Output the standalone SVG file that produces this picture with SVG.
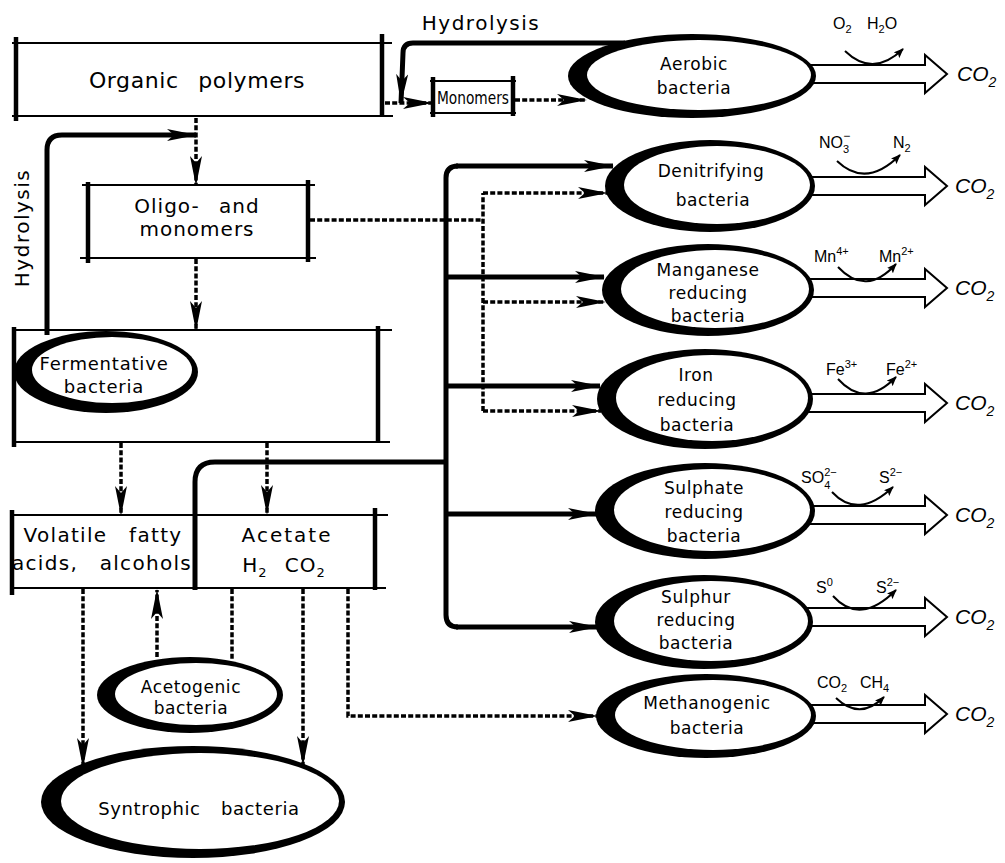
<svg xmlns="http://www.w3.org/2000/svg" width="1005" height="863" viewBox="0 0 1005 863">
<style>
.lb{font-family:"DejaVu Sans",sans-serif;font-size:17px;letter-spacing:0.6px;text-anchor:middle;fill:#000}
.bx{font-size:20px;letter-spacing:1px;word-spacing:12px}
.ch{font-family:"Liberation Sans",Arial,sans-serif;font-size:16px;fill:#000}
.co{font-family:"Liberation Sans",Arial,sans-serif;font-style:italic;font-size:21px;fill:#000}
.ln{stroke:#000;stroke-width:2;fill:none}
.bar{stroke:#000;stroke-width:4.5;fill:none}
.tk{stroke:#000;stroke-width:5;fill:none}
.dt{stroke:#000;stroke-width:3.5;fill:none;stroke-dasharray:5 2.2}
.out{fill:#000}
.in{fill:#fff}
.ha{fill:#fff;stroke:#000;stroke-width:2}
.rc{stroke:#000;stroke-width:2;fill:none}
</style>
<defs>
<marker id="ah" viewBox="0 0 30 12" refX="29" refY="6" markerWidth="30" markerHeight="12" markerUnits="userSpaceOnUse" orient="auto"><path d="M0,0 L30,6 L0,12 L7,6 z" fill="#000"/></marker>
<marker id="sh" viewBox="0 0 10 8" refX="9" refY="4" markerWidth="10" markerHeight="8" markerUnits="userSpaceOnUse" orient="auto"><path d="M0,0 L10,4 L0,8 L2,4 z" fill="#000"/></marker>
</defs>
<rect width="1005" height="863" fill="#fff"/>

<g id="connectors">
<path class="tk" d="M625,43 H413 Q403,43 403,53 L401,103" marker-end="url(#ah)"/>
<path class="tk" d="M47,335 V150 Q47,135 62,135 H196" marker-end="url(#ah)"/>
<path class="tk" d="M195,590 V482 Q195,462 215,462 H446"/>
<path class="tk" d="M458,166 Q446,166 446,178 V615 Q446,627 458,627"/>
<path class="tk" d="M456,166 H613" marker-end="url(#ah)"/>
<path class="tk" d="M446,277 H604" marker-end="url(#ah)"/>
<path class="tk" d="M446,386 H600" marker-end="url(#ah)"/>
<path class="tk" d="M446,514 H597" marker-end="url(#ah)"/>
<path class="tk" d="M456,627 H598" marker-end="url(#ah)"/>
<path class="dt" d="M196,118 V185" marker-end="url(#ah)"/>
<path class="dt" d="M196,259 V330" marker-end="url(#ah)"/>
<path class="dt" d="M121,443 V515" marker-end="url(#ah)"/>
<path class="dt" d="M267,443 V514" marker-end="url(#ah)"/>
<path class="dt" d="M385,103 H432" marker-end="url(#ah)"/>
<path class="dt" d="M515,100 H586" marker-end="url(#ah)"/>
<path class="dt" d="M310,220 H483"/>
<path class="dt" d="M483,411 V193"/>
<path class="dt" d="M483,193 H607" marker-end="url(#ah)"/>
<path class="dt" d="M483,302 H605" marker-end="url(#ah)"/>
<path class="dt" d="M483,411 H601" marker-end="url(#ah)"/>
<path class="dt" d="M83,589 V767" marker-end="url(#ah)"/>
<path class="dt" d="M157,657 V590" marker-end="url(#ah)"/>
<path class="dt" d="M232,589 V659"/>
<path class="dt" d="M303,589 V765" marker-end="url(#ah)"/>
<path class="dt" d="M348,589 V716 H597" marker-end="url(#ah)"/>
</g>

<g id="hydrolysis-labels">
<text class="lb" x="481" y="30" style="font-size:20px;letter-spacing:1.5px">Hydrolysis</text>
<text class="lb" transform="translate(29,228) rotate(-90)" style="font-size:20px;letter-spacing:1.5px">Hydrolysis</text>
</g>

<g id="organic-polymers">
<line class="ln" x1="12" y1="43" x2="392" y2="43"/>
<line class="ln" x1="12" y1="116" x2="393" y2="116"/>
<line class="bar" x1="16" y1="37" x2="16" y2="121"/>
<line class="bar" x1="382" y1="34" x2="382" y2="117"/>
<text class="lb bx" x="197" y="88" style="font-size:22px;letter-spacing:0.6px">Organic polymers</text>
</g>

<g id="monomers">
<line class="ln" x1="430" y1="81" x2="516" y2="81"/>
<line class="ln" x1="430" y1="113" x2="516" y2="113"/>
<line class="bar" x1="433" y1="77" x2="433" y2="117"/>
<line class="bar" x1="513" y1="76" x2="513" y2="116"/>
<text class="lb" x="473" y="104" style="font-size:18px;letter-spacing:0" textLength="72" lengthAdjust="spacingAndGlyphs">Monomers</text>
</g>

<g id="oligo-monomers">
<line class="ln" x1="82" y1="185" x2="315" y2="185"/>
<line class="ln" x1="80" y1="258" x2="316" y2="258"/>
<line class="bar" x1="88" y1="182" x2="88" y2="263"/>
<line class="bar" x1="308" y1="180" x2="308" y2="262"/>
<text class="lb bx" x="197" y="213">Oligo- and</text>
<text class="lb bx" x="197" y="236">monomers</text>
</g>

<g id="fermentative-box">
<line class="ln" x1="12" y1="330" x2="392" y2="330"/>
<line class="ln" x1="12" y1="442" x2="390" y2="442"/>
<line class="bar" x1="14" y1="327" x2="14" y2="447"/>
<line class="bar" x1="378" y1="326" x2="378" y2="442"/>
</g>

<g id="fermentative-bacteria">
<ellipse class="out" cx="106" cy="372" rx="92" ry="41"/>
<ellipse class="in" cx="112" cy="370" rx="80" ry="33"/>
<text class="lb" x="104" y="370" style="font-size:18px;letter-spacing:0.8px">Fermentative</text>
<text class="lb" x="104" y="393" style="font-size:18px;letter-spacing:0.8px">bacteria</text>
</g>

<g id="vfa-acetate">
<line class="ln" x1="10" y1="515" x2="388" y2="515"/>
<line class="ln" x1="10" y1="588" x2="386" y2="588"/>
<line class="bar" x1="12" y1="510" x2="12" y2="595"/>
<line class="bar" x1="375" y1="508" x2="375" y2="590"/>
<text class="lb bx" x="103" y="542" style="letter-spacing:1.3px;word-spacing:14px">Volatile fatty</text>
<text class="lb bx" x="102" y="570" style="letter-spacing:1.3px;word-spacing:14px">acids, alcohols</text>
<text class="lb bx" x="287" y="542" style="letter-spacing:2px">Acetate</text>
<text class="lb bx" x="284" y="572" style="word-spacing:10px">H<tspan font-size="13" dy="5">2</tspan><tspan dy="-5"> CO</tspan><tspan font-size="13" dy="5">2</tspan></text>
</g>

<g id="acetogenic-bacteria">
<ellipse class="out" cx="190" cy="695" rx="93" ry="38"/>
<ellipse class="in" cx="196" cy="694" rx="81" ry="31"/>
<text class="lb" x="191" y="693">Acetogenic</text>
<text class="lb" x="191" y="714">bacteria</text>
</g>

<g id="syntrophic-bacteria">
<ellipse class="out" cx="193" cy="802" rx="152" ry="56"/>
<ellipse class="in" cx="200" cy="801" rx="139" ry="48"/>
<text class="lb" x="199" y="815" style="font-size:18px;word-spacing:14px">Syntrophic bacteria</text>
</g>

<g id="aerobic-bacteria">
<path class="ha" d="M790,65 H925 V55 L947,74 L925,93 V83 H790"/>
<ellipse class="out" cx="692" cy="76" rx="124" ry="42"/>
<ellipse class="in" cx="699" cy="75" rx="112" ry="35"/>
<text class="lb" x="694" y="70">Aerobic</text>
<text class="lb" x="694" y="94">bacteria</text>
<path class="rc" d="M845,51 Q873,78 903,49" marker-end="url(#sh)"/>
<text class="ch" x="833" y="29">O<tspan font-size="11" dy="4">2</tspan></text>
<text class="ch" x="867" y="29">H<tspan font-size="11" dy="4">2</tspan><tspan dy="-4">O</tspan></text>
<text class="co" x="957" y="81">CO<tspan font-size="14" dy="6">2</tspan></text>
</g>

<g id="denitrifying-bacteria">
<path class="ha" d="M790,177 H925 V167 L947,186 L925,205 V195 H790"/>
<ellipse class="out" cx="710" cy="186" rx="105" ry="46"/>
<ellipse class="in" cx="717" cy="185" rx="93" ry="39"/>
<text class="lb" x="711" y="177">Denitrifying</text>
<text class="lb" x="713" y="206">bacteria</text>
<path class="rc" d="M837,161 Q866,189 900,155" marker-end="url(#sh)"/>
<text class="ch" x="819" y="148">NO<tspan font-size="11" dy="5">3</tspan><tspan font-size="12" dx="-6" dy="-13">−</tspan></text>
<text class="ch" x="893" y="148">N<tspan font-size="11" dy="4">2</tspan></text>
<text class="co" x="955" y="193">CO<tspan font-size="14" dy="6">2</tspan></text>
</g>

<g id="manganese-bacteria">
<path class="ha" d="M790,279 H925 V269 L947,288 L925,307 V297 H790"/>
<ellipse class="out" cx="708" cy="290" rx="106" ry="46"/>
<ellipse class="in" cx="715" cy="289" rx="94" ry="39"/>
<text class="lb" x="708" y="276">Manganese</text>
<text class="lb" x="708" y="299">reducing</text>
<text class="lb" x="708" y="322">bacteria</text>
<path class="rc" d="M838,267 Q866,297 896,264" marker-end="url(#sh)"/>
<text class="ch" x="814" y="262">Mn<tspan font-size="11" dy="-7">4+</tspan></text>
<text class="ch" x="879" y="262">Mn<tspan font-size="11" dy="-7">2+</tspan></text>
<text class="co" x="955" y="295">CO<tspan font-size="14" dy="6">2</tspan></text>
</g>

<g id="iron-bacteria">
<path class="ha" d="M790,394 H925 V384 L947,403 L925,422 V412 H790"/>
<ellipse class="out" cx="705" cy="399" rx="108" ry="50"/>
<ellipse class="in" cx="712" cy="398" rx="96" ry="43"/>
<text class="lb" x="696" y="381">Iron</text>
<text class="lb" x="697" y="406">reducing</text>
<text class="lb" x="697" y="431">bacteria</text>
<path class="rc" d="M838,379 Q865,409 896,377" marker-end="url(#sh)"/>
<text class="ch" x="826" y="375">Fe<tspan font-size="11" dy="-7">3+</tspan></text>
<text class="ch" x="886" y="375">Fe<tspan font-size="11" dy="-7">2+</tspan></text>
<text class="co" x="955" y="410">CO<tspan font-size="14" dy="6">2</tspan></text>
</g>

<g id="sulphate-bacteria">
<path class="ha" d="M790,506 H925 V496 L947,515 L925,534 V524 H790"/>
<ellipse class="out" cx="705" cy="511" rx="110" ry="48"/>
<ellipse class="in" cx="712" cy="510" rx="98" ry="41"/>
<text class="lb" x="704" y="494">Sulphate</text>
<text class="lb" x="704" y="518">reducing</text>
<text class="lb" x="704" y="542">bacteria</text>
<path class="rc" d="M832,492 Q858,520 893,487" marker-end="url(#sh)"/>
<text class="ch" x="801" y="483">SO<tspan font-size="11" dy="6">4</tspan><tspan font-size="11" dx="-6" dy="-13">2−</tspan></text>
<text class="ch" x="879" y="483">S<tspan font-size="11" dy="-7">2−</tspan></text>
<text class="co" x="955" y="522">CO<tspan font-size="14" dy="6">2</tspan></text>
</g>

<g id="sulphur-bacteria">
<path class="ha" d="M790,608 H925 V598 L947,617 L925,636 V626 H790"/>
<ellipse class="out" cx="704" cy="622" rx="109" ry="47"/>
<ellipse class="in" cx="711" cy="621" rx="97" ry="40"/>
<text class="lb" x="696" y="603">Sulphur</text>
<text class="lb" x="696" y="626">reducing</text>
<text class="lb" x="696" y="649">bacteria</text>
<path class="rc" d="M833,596 Q860,626 896,590" marker-end="url(#sh)"/>
<text class="ch" x="816" y="593">S<tspan font-size="11" dy="-7">0</tspan></text>
<text class="ch" x="876" y="593">S<tspan font-size="11" dy="-7">2−</tspan></text>
<text class="co" x="955" y="624">CO<tspan font-size="14" dy="6">2</tspan></text>
</g>

<g id="methanogenic-bacteria">
<path class="ha" d="M790,705 H925 V695 L947,714 L925,733 V723 H790"/>
<ellipse class="out" cx="706" cy="716" rx="110" ry="42"/>
<ellipse class="in" cx="713" cy="715" rx="98" ry="35"/>
<text class="lb" x="707" y="709">Methanogenic</text>
<text class="lb" x="707" y="734">bacteria</text>
<path class="rc" d="M836,698 Q860,721 884,697" marker-end="url(#sh)"/>
<text class="ch" x="817" y="688">CO<tspan font-size="11" dy="4">2</tspan></text>
<text class="ch" x="860" y="688">CH<tspan font-size="11" dy="4">4</tspan></text>
<text class="co" x="955" y="721">CO<tspan font-size="14" dy="6">2</tspan></text>
</g>
</svg>
